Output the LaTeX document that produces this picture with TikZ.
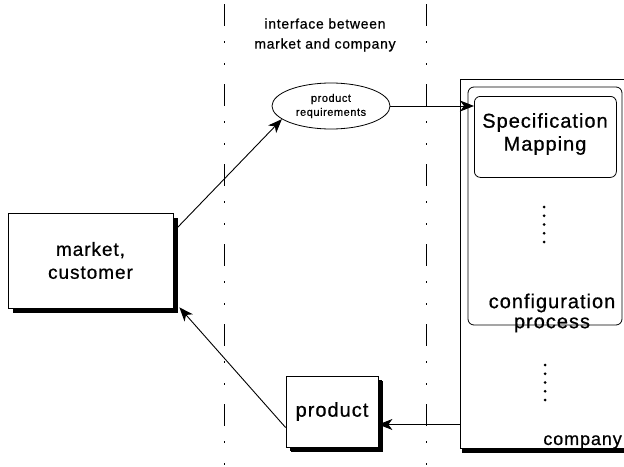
\documentclass[tikz,border=0pt]{standalone}
\usepackage{fontspec}
\setmainfont[LetterSpace=5,FakeBold=0.7]{Liberation Sans}
\usetikzlibrary{arrows.meta,shadows,calc,shapes.geometric}
\begin{document}
\begin{tikzpicture}[x=1pt,y=-1pt,
  arr/.style={draw=black,line width=0.9pt,-{Stealth[length=14pt,width=11pt,inset=4pt]}},
  sbox/.style={draw=black,fill=white,line width=0.8pt,
    drop shadow={shadow xshift=5pt,shadow yshift=-5pt,fill=black,opacity=1}},
  divider/.style={line width=0.9pt,dash pattern=on 22pt off 15pt on 2pt off 20pt on 2pt off 19pt},
  lbl/.style={font=\fontsize{19}{23}\selectfont,align=center,inner sep=0pt},
  dotc/.style={circle,fill=black,inner sep=0pt,minimum size=3pt}]
\useasboundingbox (0,0) rectangle (624,466);
\clip (0,0) rectangle (624,466);
% dividers
\draw[divider] (224,4) -- (224,466);
\draw[divider] (426,4) -- (426,466);
% interface label
\node[font=\fontsize{14}{20}\selectfont,align=center,inner sep=0pt] (iface) at (325,35) {interface between\\market and company};
% company box
\fill[black] (462,448) rectangle (630,453);
\node[draw=black,fill=white,line width=0.8pt,minimum width=170pt,minimum height=369pt,inner sep=0pt,anchor=north west] (company) at (460,79) {};
\draw[line width=0.8pt,rounded corners=6pt] (468,87) rectangle (622,325);
\node[draw=black,line width=0.8pt,rounded corners=6pt,minimum width=142pt,minimum height=81pt,inner sep=0pt,anchor=north west] (spec) at (474,96) {};
\node[lbl,font=\fontsize{20}{23}\selectfont] (spectext) at (545,134) {Specification\\Mapping};
\node[lbl,font=\fontsize{20}{20}\selectfont] (config) at (552,313) {configuration\\process};
\node[lbl,font=\fontsize{18}{20}\selectfont,anchor=east] (comptext) at (622,442) {company};
\foreach \i in {0,...,4} {
  \node[dotc] (da\i) at (544,{207+8.75*\i}) {};
  \node[dotc] (db\i) at (545,{365+8.75*\i}) {};
}
% market box
\node[sbox,lbl,minimum width=165pt,minimum height=95pt] (market) at (90.5,260.5) {market,\\customer};
% product box
\node[sbox,lbl,font=\fontsize{20}{23}\selectfont,minimum width=92pt,minimum height=71pt,drop shadow={shadow xshift=4pt,shadow yshift=-4pt,fill=black,opacity=1}] (product) at (332,411.5) {product};
% requirements ellipse
\node[draw=black,line width=0.8pt,ellipse,minimum width=118pt,minimum height=46pt,inner sep=0pt,align=center,font=\fontsize{11}{14}\selectfont] (req) at (331,106) {product\\requirements};
% connectors
\draw[arr] ([xshift=4pt,yshift=-15pt]market.north east) -- (req.195);
\draw[arr] (req.east) -- (spec.west |- req.east);
\coordinate (pin) at ([yshift=-13pt]product.east);
\draw[arr] (company.west |- pin) -- (pin);
\draw[arr] ([yshift=-16pt]product.west) -- ([xshift=6pt,yshift=1pt]market.south east);
\end{tikzpicture}
\end{document}
